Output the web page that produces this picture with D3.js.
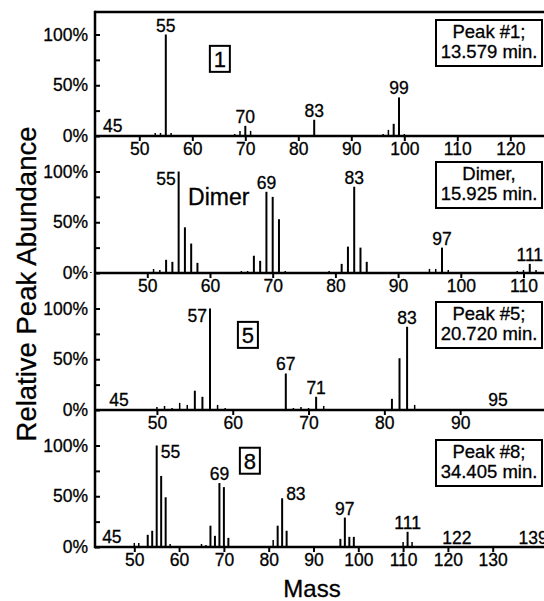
<!DOCTYPE html>
<html><head><meta charset="utf-8">
<script src="https://cdn.jsdelivr.net/npm/d3@7"></script>
<style>
html,body{margin:0;padding:0;background:#fff;}
svg{display:block;}
svg text{stroke:#000;stroke-width:0.3px;}
</style></head><body>
<svg id="chart" width="544" height="601"></svg>
<script>
// ---------- data ----------
const panelNames = ["Peak #1;", "Dimer,", "Peak #5;", "Peak #8;"];
const panelTimes = ["13.579 min.", "15.925 min.", "20.720 min.", "34.405 min."];
const panelTags = ["1", "Dimer", "5", "8"];
const tagMass = [65.2, 56.5, 62.0, 75.8];
const tagPct = [76, 67, 74, 85];
const massDomains = [[41.64, 126.36], [41.66, 113.27], [41.83, 101.06], [41.23, 141.45]];
const massTicks = [
  [50, 60, 70, 80, 90, 100, 110, 120],
  [50, 60, 70, 80, 90, 100, 110],
  [50, 60, 70, 80, 90],
  [50, 60, 70, 80, 90, 100, 110, 120, 130]
];
const yTicks = [0, 25, 50, 75, 100];
const yLabelTicks = [0, 50, 100];

const masses1 = [45, 50, 51, 53, 54, 55, 56, 57, 67, 68, 69, 70, 71, 72, 81, 83, 84, 96, 97, 98, 99, 100];
const abund1  = [1, 1, 1, 3, 3, 100, 3, 1, 1, 2, 5, 10, 5, 1, 1, 16, 1, 2, 6, 12, 38, 2];

const masses2 = [41, 43, 50, 51, 52, 53, 54, 55, 56, 57, 58, 59, 60, 63, 65, 66, 67, 68, 69, 70, 71, 72, 77, 79, 81, 82, 83, 84, 85, 86, 91, 93, 95, 96, 97, 98, 99, 109, 110, 111, 112];
const abund2  = [1, 1, 1, 4, 3, 13, 11, 100, 45, 29, 10, 1, 1, 1, 2, 2, 17, 12, 80, 75, 53, 2, 1, 2, 9, 26, 85, 25, 11, 1, 1, 1, 4, 4, 25, 3, 1, 2, 3, 9, 3];

const masses3 = [45, 50, 51, 52, 53, 54, 55, 56, 57, 58, 59, 63, 65, 66, 67, 68, 69, 70, 71, 72, 75, 81, 82, 83, 84, 85, 95];
const abund3  = [1, 3, 4, 2, 7, 5, 19, 13, 100, 5, 2, 1, 1, 1, 36, 2, 3, 2, 13, 4, 1, 11, 51, 82, 5, 1, 1];

const masses4 = [45, 50, 51, 52, 53, 54, 55, 56, 57, 58, 65, 66, 67, 68, 69, 70, 71, 79, 80, 81, 82, 83, 84, 95, 96, 97, 98, 99, 110, 111, 112];
const abund4  = [1, 4, 4, 1, 12, 16, 100, 70, 49, 3, 3, 2, 21, 11, 63, 59, 9, 1, 1, 7, 21, 48, 16, 1, 8, 29, 10, 10, 5, 15, 5];

// peak labels: [text, mass, placement]
const labels1 = [["45", 45, "top"], ["55", 55, "top"], ["70", 70, "top"], ["83", 83, "top"], ["99", 99, "top"]];
const labels2 = [["55", 55, "left"], ["69", 69, "top"], ["83", 83, "top"], ["97", 97, "top"], ["111", 111, "top"]];
const labels3 = [["45", 45, "top"], ["57", 57, "left"], ["67", 67, "top"], ["71", 71, "top"], ["83", 83, "top"], ["95", 95, "top"]];
const labels4 = [["45", 45, "top"], ["55", 55, "right"], ["69", 69, "top"], ["83", 83, "rightTop"], ["97", 97, "top"], ["111", 111, "top"], ["122", 122, "top"], ["139", 139, "top"]];

const panels = [
  {masses: masses1, abund: abund1, labels: labels1},
  {masses: masses2, abund: abund2, labels: labels2},
  {masses: masses3, abund: abund3, labels: labels3},
  {masses: masses4, abund: abund4, labels: labels4}
];

// ---------- layout ----------
const FONT = "'Liberation Sans', Arial, Helvetica, sans-serif";
const X0 = 95, X1 = 544;
const baselines = [136, 273, 410, 547];
const TOP = 12;
const unit = 101.5;
const boxOffsets = [-116, -111, -108, -107];
const FS = 17.5;

const svg = d3.select("#chart").attr("font-family", FONT);

panels.forEach((p, i) => {
  const x = d3.scaleLinear().domain(massDomains[i]).range([X0, X1]);
  const y = d3.scaleLinear().domain([0, 100]).range([baselines[i], baselines[i] - unit]);
  const g = svg.append("g");

  const pts = p.masses.map((m, j) => ({mass: m, v: p.abund[j]}));
  g.selectAll("line.pk").data(pts).join("line")
    .attr("class", "pk")
    .attr("x1", d => x(d.mass)).attr("x2", d => x(d.mass))
    .attr("y1", y(0)).attr("y2", d => y(d.v))
    .attr("stroke", "#000")
    .attr("stroke-width", d => d.v >= 8 ? 2 : 1.5);

  // x axis
  const xa = d3.axisBottom(x).tickValues(massTicks[i]).tickSize(5).tickPadding(2).tickSizeOuter(0);
  const xg = g.append("g").attr("transform", `translate(0,${baselines[i]})`).call(xa);
  xg.select(".domain").remove();
  xg.selectAll(".tick line").attr("stroke", "#000").attr("stroke-width", 2);
  xg.selectAll(".tick text").attr("font-size", FS).attr("font-family", FONT).attr("fill", "#000");

  // baseline
  g.append("line").attr("x1", X0).attr("x2", X1)
    .attr("y1", y(0)).attr("y2", y(0))
    .attr("stroke", "#000").attr("stroke-width", 2.5);

  // y axis ticks (inward)
  const yr = d3.axisRight(y).tickValues(yTicks).tickSize(5).tickFormat("");
  const yrg = g.append("g").attr("transform", `translate(${X0},0)`).call(yr);
  yrg.select(".domain").remove();
  yrg.selectAll(".tick line").attr("stroke", "#000").attr("stroke-width", 2);

  const yl = d3.axisLeft(y).tickValues(yLabelTicks).tickSize(0).tickPadding(7).tickFormat(d => d + "%");
  const ylg = g.append("g").attr("transform", `translate(${X0},0)`).call(yl);
  ylg.select(".domain").remove();
  ylg.selectAll(".tick text").attr("font-size", FS).attr("font-family", FONT).attr("fill", "#000");

  // peak labels
  const valOf = m => { const k = p.masses.indexOf(m); return k >= 0 ? p.abund[k] : 0; };
  p.labels.forEach(([t, m, pos]) => {
    const v = valOf(m);
    const txt = g.append("text").text(t).attr("font-size", FS).attr("fill", "#000");
    if (pos === "top") {
      txt.attr("x", x(m)).attr("y", y(v) - 3).attr("text-anchor", "middle");
    } else if (pos === "left") {
      txt.attr("x", x(m) - 3).attr("y", y(v) + 13).attr("text-anchor", "end");
    } else if (pos === "right") {
      txt.attr("x", x(m) + 4).attr("y", y(v) + 12).attr("text-anchor", "start");
    } else {
      txt.attr("x", x(m) + 4).attr("y", y(v) + 2).attr("text-anchor", "start");
    }
  });

  // panel tag
  if (panelTags[i] === "Dimer") {
    g.append("text").text(panelTags[i])
      .attr("x", x(tagMass[i])).attr("y", y(tagPct[i]))
      .attr("font-size", 23).attr("fill", "#000");
  } else {
    const cx = x(tagMass[i]), cy = y(tagPct[i]);
    g.append("rect").attr("x", cx - 10).attr("y", cy - 13).attr("width", 20).attr("height", 26)
      .attr("fill", "#fff").attr("stroke", "#000").attr("stroke-width", 2);
    g.append("text").text(panelTags[i]).attr("x", cx).attr("y", cy + 8)
      .attr("text-anchor", "middle").attr("font-size", 22).attr("fill", "#000");
  }

  // info box
  const by = baselines[i] + boxOffsets[i];
  g.append("rect").attr("x", 436).attr("y", by).attr("width", 106).attr("height", 46)
    .attr("fill", "#fff").attr("stroke", "#000").attr("stroke-width", 2);
  g.append("text").text(panelNames[i]).attr("x", 489).attr("y", by + 18)
    .attr("text-anchor", "middle").attr("font-size", 18.5).attr("fill", "#000");
  g.append("text").text(panelTimes[i]).attr("x", 489).attr("y", by + 38)
    .attr("text-anchor", "middle").attr("font-size", 18.5).attr("fill", "#000");
});

// frame: top border and left axis
svg.append("line").attr("x1", X0).attr("x2", X1).attr("y1", TOP).attr("y2", TOP)
  .attr("stroke", "#000").attr("stroke-width", 2.5);
svg.append("line").attr("x1", X0).attr("x2", X0).attr("y1", TOP - 1.25).attr("y2", baselines[3] + 1.25)
  .attr("stroke", "#000").attr("stroke-width", 2.5);

// axis titles
svg.append("text").text("Relative Peak Abundance")
  .attr("transform", "translate(36,284) rotate(-90)")
  .attr("text-anchor", "middle").attr("font-size", 27.5).attr("fill", "#000");
svg.append("text").text("Mass")
  .attr("x", 312).attr("y", 597)
  .attr("text-anchor", "middle").attr("font-size", 24).attr("fill", "#000");
</script>
</body></html>
